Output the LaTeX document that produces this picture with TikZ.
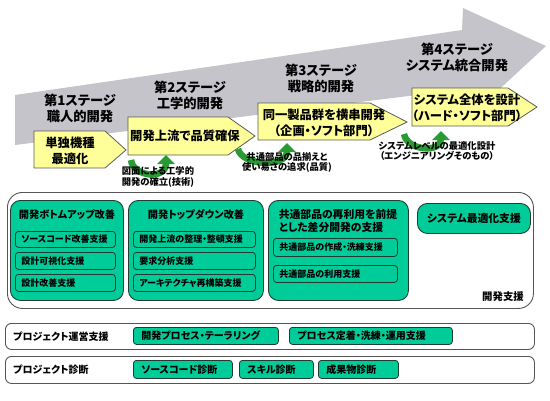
\documentclass[tikz,border=0pt]{standalone}
\usepackage{fontspec}
\setmainfont{Noto Sans CJK JP}[RawFeature={+palt}]
\usetikzlibrary{arrows.meta}
\definecolor{grayarrow}{RGB}{196,196,202}
\definecolor{yfill}{RGB}{255,255,153}
\definecolor{ydraw}{RGB}{90,90,90}
\definecolor{gfill}{RGB}{0,204,153}
\definecolor{gdraw}{RGB}{35,60,50}
\definecolor{agreen}{RGB}{40,155,50}
\definecolor{odraw}{RGB}{85,85,85}
\begin{document}
\begin{tikzpicture}[x=1pt,y=-1pt,
  stagelbl/.style={align=center, font=\bfseries\fontsize{13.3}{16.5}\selectfont, inner sep=0pt},
  ytext/.style={align=center, font=\bfseries\fontsize{12.3}{15.5}\selectfont, inner sep=0pt},
  smalllbl/.style={align=center, font=\bfseries\fontsize{9.3}{10.5}\selectfont, inner sep=0pt},
  ypoly/.style={fill=yfill, draw=ydraw, line width=0.8pt},
  garrow/.style={draw=agreen, line width=6.5pt, -{Triangle[width=17pt,length=9pt]}},
  outerbox/.style={draw=odraw, line width=0.9pt, fill=white, rounded corners=15pt, anchor=north west, inner sep=0pt},
  rowbox/.style={draw=odraw, line width=0.9pt, fill=white, rounded corners=6pt, anchor=north west, inner sep=0pt},
  gbig/.style={fill=gfill, draw=gdraw, line width=0.9pt, rounded corners=10pt, anchor=north west, inner sep=0pt},
  gsub/.style={fill=gfill, draw=gdraw, line width=0.8pt, rounded corners=3pt, anchor=north west, inner xsep=6pt, inner ysep=0pt, align=left, font=\bfseries\fontsize{9}{10}\selectfont},
  gtitle/.style={font=\bfseries\fontsize{10.2}{12.5}\selectfont, inner sep=0pt, align=left},
  rowlbl/.style={font=\bfseries\fontsize{10}{11}\selectfont, inner sep=0pt, anchor=west},
  rowitem/.style={fill=gfill, draw=gdraw, line width=0.8pt, rounded corners=3pt, anchor=north west, inner xsep=8pt, inner ysep=0pt, align=left, font=\bfseries\fontsize{10}{11}\selectfont}
]
\useasboundingbox (0,0) rectangle (550,400);

% big gray arrow
\fill[grayarrow] (15,95) -- (462,30) -- (463,8) -- (546,46) -- (477,110) -- (473,88) -- (15,145) -- cycle;

% stage labels
\node[stagelbl] (s1) at (80,108.5) {第1ステージ\\職人的開発};
\node[stagelbl] (s2) at (190,95.5) {第2ステージ\\工学的開発};
\node[stagelbl] (s3) at (321,78.5) {第3ステージ\\戦略的開発};
\node[stagelbl] (s4) at (457,57.5) {第4ステージ\\システム統合開発};

% yellow stage boxes
\path[ypoly] (34,131) -- (105,131) -- (126,150) -- (105,168) -- (34,168) -- cycle;
\node[ytext] (y1) at (70,151) {単独機種\\最適化};
\path[ypoly] (128,117) -- (228,117) -- (255,136) -- (228,155) -- (128,155) -- cycle;
\node[ytext] (y2) at (185,136) {開発上流で品質確保};
\path[ypoly] (258,103) -- (370,103) -- (407,122) -- (370,140) -- (258,140) -- cycle;
\node[ytext] (y3) at (324,123) {同一製品群を横串開発\\（企画・ソフト部門）};
\path[ypoly] (412,88) -- (508,88) -- (537,107) -- (508,126) -- (412,126) -- cycle;
\node[ytext] (y4) at (467,108) {システム全体を設計\\（ハード・ソフト部門）};

% green curved arrows
\coordinate (g1s) at (131,160); \coordinate (g1e) at (166,155);
\draw[garrow] (g1s) .. controls (133,177) and (166,180) .. (g1e);
\coordinate (g2s) at (238,149); \coordinate (g2e) at (287,143);
\draw[garrow] (g2s) .. controls (242,166) and (287,168) .. (g2e);
\coordinate (g3s) at (404,134); \coordinate (g3e) at (441,131);
\draw[garrow] (g3s) .. controls (407,151) and (441,153) .. (g3e);

% small labels
\node[smalllbl] (l1) at (158,177) {図面による工学的\\開発の確立(技術)};
\node[smalllbl] (l2) at (287,162.5) {共通部品の品揃えと\\使い易さの追求(品質)};
\node[smalllbl] (l3) at (437,151) {システムレベルの最適化設計\\（エンジニアリングそのもの）};

% development support frame
\node[outerbox, minimum width=526pt, minimum height=116pt] (dev) at (7,192) {};
\node[font=\bfseries\fontsize{10.4}{12}\selectfont, inner sep=0pt] (devlbl) at (503,297) {開発支援};

% box A
\node[gbig, minimum width=113pt, minimum height=100pt] (ba) at (10,200) {};
\node[gtitle] (ta) at (67,215) {開発ボトムアップ改善};
\node[gsub, minimum height=16pt, text width=88pt] (a1) at (15,231) {ソースコード改善支援};
\node[gsub, minimum height=17pt, text width=88pt] (a2) at (15,252) {設計可視化支援};
\node[gsub, minimum height=17pt, text width=88pt] (a3) at (15,274) {設計改善支援};

% box B
\node[gbig, minimum width=135pt, minimum height=100pt] (bb) at (128,200) {};
\node[gtitle] (tb) at (196,215) {開発トップダウン改善};
\node[gsub, minimum height=16pt, text width=110pt] (b1) at (133,231) {開発上流の整理・整頓支援};
\node[gsub, minimum height=17pt, text width=110pt] (b2) at (133,252) {要求分析支援};
\node[gsub, minimum height=17pt, text width=110pt] (b3) at (133,274) {アーキテクチャ再構築支援};

% box C
\node[gbig, minimum width=140pt, minimum height=100pt] (bc) at (268,200) {};
\node[gtitle, font=\bfseries\fontsize{10.8}{12.5}\selectfont] (tc) at (338,221) {共通部品の再利用を前提\\とした差分開発の支援};
\node[gsub, minimum height=18pt, text width=112pt] (c1) at (273,238) {共通部品の作成・洗練支援};
\node[gsub, minimum height=17pt, text width=112pt] (c2) at (273,265) {共通部品の利用支援};

% box D
\node[gbig, minimum width=113pt, minimum height=30pt, font=\bfseries\fontsize{10.8}{12}\selectfont] (bd) at (417,203) {システム最適化支援};

% project management row
\node[rowbox, minimum width=529pt, minimum height=26pt] (r1) at (5,323) {};
\node[rowlbl] (r1l) at (13,336.5) {プロジェクト運営支援};
\node[rowitem, minimum height=17pt, text width=129pt] (p1) at (133,327) {開発プロセス・テーラリング};
\node[rowitem, minimum height=17pt, text width=147pt] (p2) at (289,327) {プロセス定着・洗練・運用支援};

% project diagnosis row
\node[rowbox, minimum width=529pt, minimum height=27pt] (r2) at (5,356) {};
\node[rowlbl] (r2l) at (13,369.5) {プロジェクト診断};
\node[rowitem, minimum height=18pt, text width=83pt] (q1) at (133,360) {ソースコード診断};
\node[rowitem, minimum height=18pt, text width=58pt] (q2) at (239,360) {スキル診断};
\node[rowitem, minimum height=18pt, text width=64pt] (q3) at (318,360) {成果物診断};
\end{tikzpicture}
\end{document}
